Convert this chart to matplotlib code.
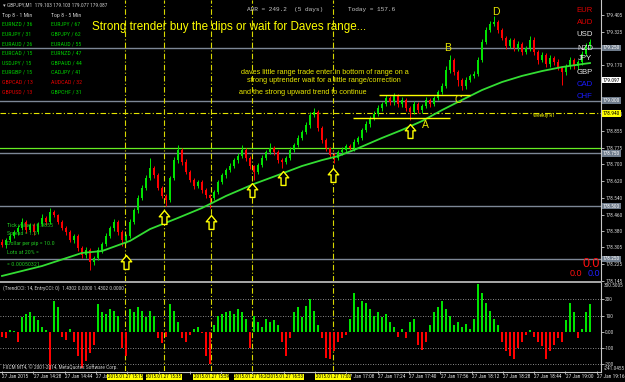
import matplotlib
matplotlib.use('Agg')
import matplotlib.pyplot as plt
from matplotlib import font_manager
from matplotlib.path import Path
from matplotlib.transforms import blended_transform_factory as blend
import numpy as np

# ---------------- data ----------------
first_open = 178.330
close = [
    178.316, 178.339, 178.358, 178.377, 178.396, 178.425, 178.387, 178.410, 178.377, 178.415,
    178.444, 178.425, 178.472, 178.458, 178.425, 178.396, 178.377, 178.339, 178.358, 178.301,
    178.268, 178.292, 178.235, 178.254, 178.292, 178.320, 178.358, 178.396, 178.425, 178.377,
    178.339, 178.358, 178.425, 178.481, 178.538, 178.586, 178.633, 178.681, 178.647, 178.586,
    178.548, 178.529, 178.633, 178.718, 178.766, 178.709, 178.662, 178.624, 178.595, 178.614,
    178.576, 178.553, 178.538, 178.567, 178.614, 178.647, 178.671, 178.690, 178.718, 178.737,
    178.766, 178.728, 178.690, 178.662, 178.695, 178.728, 178.756, 178.775, 178.756, 178.718,
    178.709, 178.728, 178.766, 178.790, 178.823, 178.851, 178.884, 178.932, 178.946, 178.870,
    178.813, 178.775, 178.742, 178.728, 178.756, 178.766, 178.785, 178.775, 178.804, 178.823,
    178.861, 178.889, 178.917, 178.936, 178.965, 178.984, 179.012, 178.993, 179.022, 178.984,
    179.003, 178.965, 178.946, 178.984, 178.955, 178.974, 179.003, 178.984, 179.012, 179.041,
    179.069, 179.145, 179.192, 179.136, 179.098, 179.069, 179.098, 179.117, 179.126, 179.192,
    179.278, 179.335, 179.363, 179.372, 179.335, 179.297, 179.259, 179.287, 179.249, 179.268,
    179.230, 179.249, 179.287, 179.230, 179.192, 179.216, 179.173, 179.202, 179.183, 179.154,
    179.136, 179.164, 179.192, 179.164, 179.183, 179.221, 179.259, 179.278]
# wick lengths in pipettes (0.001)
hi_wick = [
    15, 12, 10, 8, 14, 20, 10, 12, 8, 10,
    18, 10, 20, 8, 6, 10, 8, 12, 10, 8,
    10, 12, 8, 10, 12, 10, 14, 12, 16, 8,
    10, 8, 12, 10, 14, 12, 16, 47, 10, 8,
    10, 8, 12, 16, 24, 10, 12, 8, 10, 12,
    8, 10, 6, 10, 12, 8, 10, 12, 10, 14,
    24, 10, 8, 6, 10, 12, 10, 24, 8, 10,
    8, 10, 12, 10, 14, 12, 16, 14, 19, 10,
    8, 10, 6, 8, 10, 12, 10, 8, 12, 10,
    10, 12, 10, 14, 12, 10, 16, 10, 14, 10,
    12, 8, 10, 14, 8, 10, 12, 10, 12, 10,
    14, 20, 24, 10, 8, 10, 12, 10, 14, 16,
    14, 12, 16, 28, 12, 10, 8, 12, 10, 14,
    10, 12, 18, 14, 10, 12, 8, 16, 10, 12,
    8, 10, 14, 12, 10, 12, 14, 16]
lo_wick = [
    12, 14, 10, 8, 12, 10, 14, 10, 12, 8,
    10, 14, 8, 12, 10, 8, 12, 10, 14, 12,
    16, 12, 38, 14, 10, 12, 8, 10, 12, 14,
    28, 12, 10, 8, 12, 10, 8, 10, 14, 12,
    10, 29, 8, 10, 12, 14, 10, 12, 16, 10,
    12, 14, 47, 10, 8, 10, 12, 8, 10, 12,
    10, 12, 14, 38, 10, 12, 8, 10, 12, 14,
    28, 10, 8, 10, 12, 8, 10, 12, 10, 14,
    12, 14, 16, 24, 10, 12, 8, 10, 12, 8,
    10, 8, 12, 10, 8, 12, 10, 14, 12, 16,
    12, 14, 38, 10, 14, 12, 10, 12, 8, 10,
    8, 10, 12, 16, 30, 20, 12, 10, 12, 8,
    10, 8, 12, 10, 14, 12, 16, 10, 14, 12,
    16, 10, 14, 12, 18, 10, 14, 12, 16, 10,
    60, 14, 12, 16, 12, 14, 10, 12]
cci = [
    -30, -40, 10, 8, -60, 90, 110, 120, 95, 70,
    30, 10, -235, 190, 150, -30, -50, 15, -60, -150,
    -225, -180, -130, -80, 170, 120, 110, 140, 130, 100,
    -100, -150, 140, 120, 150, 130, 90, 130, 100, -40,
    -70, -30, 170, 130, 60, -40, -60, -20, 20, 30,
    -10, -150, -200, 40, 100, 110, 120, 130, 110, 140,
    120, 80, -100, 100, 60, 30, 80, 60, 70, 40,
    -60, -150, -40, 120, 150, 90, 160, 200, 130, 40,
    -40, -160, -170, -120, -60, -40, -20, 80, 240, 150,
    190, 180, 140, 100, 120, 90, 110, 60, 30, -30,
    20, -40, 60, 80, -80, -110, -60, 40, 120, 150,
    190, 140, 100, 40, 60, 30, 50, 20, 80, 296,
    240, 180, 130, 80, 40, -60, -120, -150, -170, -100,
    -60, -20, 10, -30, -60, -90, -170, -120, -80, -40,
    -60, 70, 180, 120, -40, 20, 120, 170]
ma_bar = [0, 10, 20, 25, 32, 37, 44, 50, 56, 63, 69, 75, 80, 84, 88, 95, 100,
          105, 110, 115, 120, 125, 130, 135, 140, 145, 147]
ma_val = [178.169, 178.216, 178.278, 178.287, 178.335, 178.391, 178.444, 178.491,
          178.548, 178.605, 178.647, 178.690, 178.718, 178.737, 178.766, 178.823,
          178.861, 178.903, 178.955, 179.003, 179.050, 179.088, 179.117, 179.140,
          179.159, 179.173, 179.178]

quarter_levels = [179.25, 179.00, 178.75, 178.50, 178.25]
weekly_r1 = 178.940
green_level = 178.775
range_top = (179.027, 94.25, 117.0)
range_bot = (178.917, 87.75, 112.0)

arrow_bar = [31, 40.5, 52.25, 62.5, 70.25, 82.75, 102]
arrow_price = [178.235, 178.448, 178.425, 178.576, 178.633, 178.647, 178.856]

point_labels = ['A', 'B', 'C', 'D']
point_bar = [105.75, 111.5, 114.0, 123.5]
point_price = [178.884, 179.249, 179.003, 179.420]

price_ticks = [179.405, 179.325, 179.170, 178.935, 178.855, 178.775, 178.700,
               178.620, 178.540, 178.460, 178.380, 178.305, 178.225, 178.145]
bid_price = 179.097

vline_bars = [30.75, 40.5, 52.25, 62.5, 82.75]
box_bars = [30.75, 40.5, 52.25, 62.5, 71.0, 82.75]
box_labels = ['2015.01.27 15:15', '2015.01.27 15:35', '2015.01.27 15:59',
              '2015.01.27 16:20', '2015.01.27 16:53', '2015.01.27 17:00']
time_labels = ['27 Jan 2015', '27 Jan 14:28', '27 Jan 14:44', '27 Jan 15:00',
               '', '', '', '', '', '', '', '27 Jan 17:08',
               '27 Jan 17:24', '27 Jan 17:40', '27 Jan 17:56', '27 Jan 18:12',
               '27 Jan 18:28', '27 Jan 18:44', '27 Jan 19:00', '27 Jan 19:16']
minutes_per_bar = 16 / 7.825

top1 = [('EURNZD / 36', 'g'), ('EURJPY / 31', 'g'), ('EURAUD / 26', 'g'), ('EURCAD / 15', 'g'),
        ('USDJPY / 15', 'g'), ('EURGBP / 15', 'g'), ('GBPCAD / 13', 'r'), ('GBPUSD / 13', 'r')]
top5 = [('EURJPY / 67', 'g'), ('GBPJPY / 62', 'g'), ('EURAUD / 55', 'g'), ('EURNZD / 47', 'g'),
        ('GBPAUD / 44', 'g'), ('CADJPY / 41', 'g'), ('AUDCAD / 32', 'r'), ('GBPCHF / 31', 'g')]
currencies = [('EUR', '#e00000'), ('AUD', '#e00000'), ('USD', '#e8e8e8'), ('NZD', '#e8e8e8'),
              ('JPY', '#e8e8e8'), ('GBP', '#e8e8e8'), ('CAD', '#1a1aff'), ('CHF', '#1a1aff')]
info_lines = ['Tick value = 0.0855', 'Spread = 1.0', 'Dollar per pip = 10.0',
              'Lots at 20% = ', '= 0.00050321']

# ---------------- fonts ----------------
avail = {f.name for f in font_manager.fontManager.ttflist}
NARROW = next((f for f in ['Liberation Sans Narrow', 'DejaVu Sans Condensed', 'Roboto Condensed']
               if f in avail), 'DejaVu Sans')
SANS = 'Liberation Sans' if 'Liberation Sans' in avail else 'DejaVu Sans'
MONO = 'Liberation Mono' if 'Liberation Mono' in avail else 'DejaVu Sans Mono'
plt.rcParams['font.family'] = [NARROW, 'DejaVu Sans']
SMALL = 3.9 if NARROW != 'DejaVu Sans' else 3.5

GREEN = '#00e400'
RED = '#ff0000'
YEL = '#ffff00'
GREY = '#7d8796'

W, H = 625, 382
SEP = 601
fig = plt.figure(figsize=(W / 100, H / 100), dpi=100, facecolor='black')


def T(px, py, s, **kw):
    kw.setdefault('va', 'center')
    return fig.text(px / W, 1 - py / H, s, **kw)


ax = fig.add_axes([0, 1 - 281 / H, SEP / W, 281 / H])
ax2 = fig.add_axes([0, 1 - 371 / H, SEP / W, 88 / H])
for a in (ax, ax2):
    a.set_facecolor('black')
    for s in a.spines.values():
        s.set_visible(False)
    a.set_xlim(-0.5, 149.75)

ax.set_ylim(178.145, 178.145 + 281 / 211)
ax2.set_ylim(-241.0455, 300.5005)

# ---- main panel ----
for lv in quarter_levels:
    ax.axhline(lv, color=GREY, lw=1.0, zorder=1)
ax.axhline(weekly_r1, color='#e6e600', lw=0.8, ls=(0, (5, 2, 1, 2)), zorder=1)
ax.axhline(green_level, color='#66ee22', lw=0.9, zorder=1)
for b in vline_bars:
    for a in (ax, ax2):
        a.axvline(b, color='#d8d800', lw=0.8, ls=(0, (5, 2, 1, 2)), zorder=1)

c = np.array(close)
o = np.r_[first_open, c[:-1]]
hi = np.maximum(o, c) + np.array(hi_wick) / 1000
lo = np.minimum(o, c) - np.array(lo_wick) / 1000
x = np.arange(len(c))
cols = np.where(c >= o, GREEN, RED)
ax.vlines(x, lo, hi, colors=cols, lw=0.7, zorder=3)
ax.bar(x, np.maximum(np.abs(c - o), 0.003), bottom=np.minimum(o, c), width=0.55,
       color=cols, lw=0, zorder=3)
ax.plot(ma_bar, ma_val, color='#33dd33', lw=1.3, zorder=4)

ax.hlines(range_top[0], range_top[1], range_top[2], color=YEL, lw=1.0, zorder=5)
ax.hlines(range_bot[0], range_bot[1], range_bot[2], color=YEL, lw=1.0, zorder=5)

arrow = Path([(0, 1), (0.75, 0.1), (0.35, 0.1), (0.35, -1), (-0.35, -1), (-0.35, 0.1),
              (-0.75, 0.1), (0, 1)],
             [Path.MOVETO] + [Path.LINETO] * 6 + [Path.CLOSEPOLY])
ax.plot(arrow_bar, arrow_price, ls='none', marker=arrow, ms=10, mfc='black', mec=YEL,
        mew=1.0, zorder=6)
for lab, b, p in zip(point_labels, point_bar, point_price):
    ax.text(b, p, lab, color='#e8e800', fontsize=7.5, family=SANS, ha='center', va='center',
            zorder=6)

ax.yaxis.tick_right()
ax.set_yticks(price_ticks)
ax.set_yticklabels([f'{v:.3f}' for v in price_ticks])
ax.tick_params(axis='y', colors='#d0d0d0', labelsize=SMALL, length=2, width=0.6, pad=1)
ax.tick_params(axis='x', bottom=False, labelbottom=False)
bt = blend(ax.transAxes, ax.transData)
for v, fc, tc in [(179.250, '#6e7b8b', 'white'), (179.000, '#6e7b8b', 'white'),
                  (178.750, '#6e7b8b', 'white'), (178.500, '#6e7b8b', 'white'),
                  (178.250, '#6e7b8b', 'white'), (bid_price, 'white', 'black'),
                  (weekly_r1, YEL, 'black')]:
    ax.text(1 + 2 / SEP, v, f'{v:.3f}', transform=bt, fontsize=SMALL, color=tc, ha='left',
            va='center', clip_on=False, zorder=10,
            bbox=dict(facecolor=fc, edgecolor='none', pad=0.6))

# ---- CCI panel ----
ccv = np.array(cci)
ax2.bar(x, ccv, width=0.55, color=np.where(ccv >= 0, GREEN, RED), lw=0, zorder=3)
for lv in (-200, -100, 100, 200):
    ax2.axhline(lv, color='#b8b8b8', lw=0.6, ls=(0, (1, 2)), zorder=1)
ax2.yaxis.tick_right()
ax2.set_yticks([-200, -100, 0, 100, 200])
ax2.set_yticklabels(['-200', '-100', '0.00', '100', '200'])
ax2.tick_params(axis='y', colors='#d0d0d0', labelsize=SMALL, length=2, width=0.6, pad=1)
bt2 = blend(ax2.transAxes, ax2.transData)
ax2.text(1 + 3 / SEP, 300.5005, '300.5005', transform=bt2, fontsize=SMALL, color='#d0d0d0',
         ha='left', va='top', clip_on=False)
ax2.text(1 + 3 / SEP, -241.0455, '-241.0455', transform=bt2, fontsize=SMALL, color='#d0d0d0',
         ha='left', va='bottom', clip_on=False)

tick_bars = [k * 16 / minutes_per_bar for k in range(len(time_labels))]
ax2.set_xticks(tick_bars)
ax2.set_xticklabels([])
ax2.tick_params(axis='x', colors='#c0c0c0', length=2, width=0.6, direction='out')
bx = blend(ax2.transData, fig.transFigure)
for b, s in zip(tick_bars, time_labels):
    if s:
        ax2.text(b + 0.1, 1 - 377 / H, s, transform=bx, fontsize=SMALL, color='#e0e0e0',
                 ha='left', va='center', clip_on=False)
for b, s in zip(box_bars, box_labels):
    ax2.text(b, 1 - 377 / H, s, transform=bx, fontsize=SMALL - 0.3, color='black',
             ha='center', va='center', clip_on=False, zorder=10,
             bbox=dict(facecolor=YEL, edgecolor='none', pad=0.7))

# ---- frame lines ----
fig.add_artist(plt.Line2D([SEP / W] * 2, [1 - 372 / H, 1], color='#c8c8c8', lw=0.8))
fig.add_artist(plt.Line2D([0, SEP / W], [1 - 282 / H] * 2, color='#a8a8a8', lw=1.4))
fig.add_artist(plt.Line2D([0, SEP / W], [1 - 371.5 / H] * 2, color='#c8c8c8', lw=0.8))

# ---- texts ----
T(3, 5, '\u25be GBPJPY,M1  179.103 179.103 179.077 179.087', fontsize=SMALL, color='#c8c8c8')
T(2, 15, 'Top 8 - 1 Min', fontsize=SMALL + 0.3, color='#c8c8c8')
T(51, 15, 'Top 8 - 5 Min', fontsize=SMALL + 0.3, color='#c8c8c8')
rows_y = [24, 34, 43.5, 53, 63, 72.5, 82, 91.5]
cmap = {'g': '#00c800', 'r': '#e00000'}
for (s1, k1), (s2, k2), yy in zip(top1, top5, rows_y):
    T(2, yy, s1, fontsize=SMALL + 0.3, color=cmap[k1])
    T(51, yy, s2, fontsize=SMALL + 0.3, color=cmap[k2])
T(247, 10, 'ADR = 249.2  (5 days)', fontsize=4.4, color='#c8c8c8', family=MONO)
T(348, 10, 'Today = 157.6', fontsize=4.4, color='#c8c8c8', family=MONO)
T(92, 27, 'Strong trender buy the dips or wait for Daves range...', fontsize=8.4,
  color=YEL, family=SANS)
T(241, 72, 'daves little range trade enter in bottom of range on a', fontsize=5.2,
  color='#e8e800', family=SANS)
T(247, 81, 'strong uptrender wait for a little range/correction', fontsize=5.2,
  color='#e8e800', family=SANS)
T(239, 92, 'and the strong upward trend to continue', fontsize=5.2, color='#e8e800',
  family=SANS)
T(533, 116, 'Weekly R1', fontsize=SMALL, color='#e8e800')
for (s, col), yy in zip(currencies, [11, 23, 35, 48, 59, 72, 84, 96]):
    T(585, yy, s, fontsize=5.6, color=col, family=SANS, ha='center')
for s, yy in zip(info_lines, [225, 234, 243, 253, 264]):
    T(7, yy, s, fontsize=SMALL + 0.4, color='#20c020')
T(591, 264, '0.0', fontsize=9, color='#ff1010', family=SANS, ha='center')
T(576, 274, '0.0', fontsize=6.5, color='#ff1010', family=SANS, ha='center')
T(594, 274, '0.0', fontsize=6.5, color='#2020ff', family=SANS, ha='center')
T(3, 288, '(TrendCCI: 14, EntryCCI: 0)  1.4302 0.0000 1.4302 0.0000', fontsize=SMALL,
  color='#c8c8c8')
T(3, 367, 'FXCM MT4, \u00a9 2001-2014, MetaQuotes Software Corp.', fontsize=SMALL,
  color='#c8c8c8')

fig.savefig('out.png', dpi=100, facecolor='black')
